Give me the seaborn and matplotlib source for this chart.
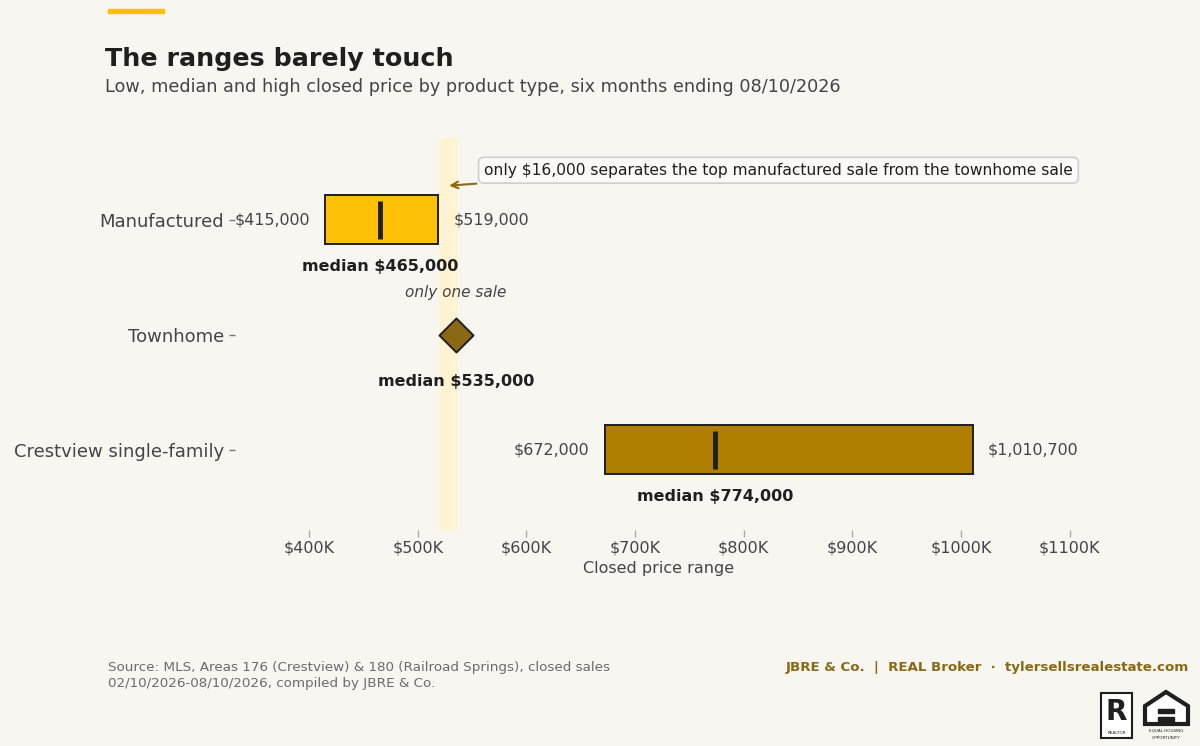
import numpy as np
import pandas as pd
import seaborn as sns
import matplotlib.pyplot as plt
from matplotlib.patches import Rectangle, Polygon
from matplotlib.ticker import FuncFormatter

# Data
product_types = ["Manufactured", "Townhome", "Crestview single-family"]
low_price = [415000, 535000, 672000]
median_price = [465000, 535000, 774000]
high_price = [519000, 535000, 1010700]
x_ticks = [400000, 500000, 600000, 700000, 800000, 900000, 1000000, 1100000]

df = pd.DataFrame({"type": product_types, "low": low_price, "median": median_price,
                   "high": high_price})
df["pos"] = np.arange(len(df))

bg = "#f7f6f1"
gold = "#ffc107"
brown = "#b07f00"
dark_brown = "#8b6914"
ink = "#1f1f1f"
grey = "#444444"
bar_colors = [gold, dark_brown, brown]

sns.set_theme(style="white")
plt.rcParams["font.family"] = ["DejaVu Sans"]

fig = plt.figure(figsize=(12, 7.46), dpi=100, facecolor=bg)
ax = fig.add_axes([0.196, 0.2895, 0.706, 0.5255], facecolor=bg)

# highlight the gap between top manufactured sale and the townhome sale
ax.axvspan(high_price[0] + 1000, low_price[1] + 2500, color="#fff3d1", zorder=0, lw=0)

h = 0.42
for i, r in df.iterrows():
    if r["low"] == r["high"]:
        continue
    ax.barh(r["pos"], r["high"] - r["low"], left=r["low"], height=h,
            color=bar_colors[i], edgecolor=ink, linewidth=1.4, zorder=2)
    ax.vlines(r["median"], r["pos"] - h / 2 + 0.045, r["pos"] + h / 2 - 0.045,
              color=ink, lw=3.5, zorder=3)
    ax.text(r["low"] - 14000, r["pos"], f"${r['low']:,.0f}", ha="right", va="center",
            fontsize=11.4, color=grey)
    ax.text(r["high"] + 14000, r["pos"], f"${r['high']:,.0f}", ha="left", va="center",
            fontsize=11.4, color=grey)
    ax.text(r["median"], r["pos"] + 0.41, f"median ${r['median']:,.0f}", ha="center",
            va="center", fontsize=11.5, fontweight="bold", color=ink)

single = df[df["low"] == df["high"]]
sns.scatterplot(data=single, x="median", y="pos", marker="D", s=300, color=dark_brown,
                edgecolor=ink, linewidth=1.4, zorder=4, ax=ax, legend=False)
for _, r in single.iterrows():
    ax.text(r["median"], r["pos"] + 0.41, f"median ${r['median']:,.0f}", ha="center",
            va="center", fontsize=11.5, fontweight="bold", color=ink)
    ax.text(r["median"], r["pos"] - 0.37, "only one sale", ha="center", va="center",
            fontsize=11, style="italic", color=grey)

gap = low_price[1] - high_price[0]
ax.text(561000, -0.43,
        f"only ${gap:,.0f} separates the top manufactured sale from the townhome sale",
        ha="left", va="center", fontsize=11.2, color=ink, zorder=5,
        bbox=dict(boxstyle="round,pad=0.35", fc="#fbfaf6", ec="#cfcfcf", lw=1.2))
ax.annotate("", xy=(529000, -0.296), xytext=(554000, -0.313),
            arrowprops=dict(arrowstyle="->", color=dark_brown, lw=1.5,
                            shrinkA=0, shrinkB=0))

ax.set_xlim(min(low_price) * 0.8, max(high_price) * 1.1)
ax.set_ylim(2.7, -0.71)
ax.set_yticks(df["pos"])
ax.set_yticklabels(product_types, fontsize=13, color=grey)
ax.set_xticks(x_ticks)
ax.xaxis.set_major_formatter(FuncFormatter(lambda v, p: f"${v / 1000:.0f}K"))
ax.tick_params(axis="x", labelsize=11.5, colors="#aaaaaa", labelcolor=grey,
               length=5, width=1, bottom=True, pad=2.5)
ax.tick_params(axis="y", colors="#777777", labelcolor=grey, length=4, width=1,
               left=True, pad=4)
ax.set_xlabel("Closed price range", fontsize=11.5, color=grey, labelpad=4)
ax.set_ylabel("")
sns.despine(ax=ax, left=True, bottom=True)

# header
fig.patches.append(Rectangle((108 / 1200, 1 - 13 / 746), 56 / 1200, 4 / 746,
                             transform=fig.transFigure, color=gold))
fig.text(105 / 1200, 1 - 59 / 746, "The ranges barely touch", fontsize=18.3,
         fontweight="bold", color=ink, va="center")
fig.text(105 / 1200, 1 - 87 / 746,
         "Low, median and high closed price by product type, six months ending 08/10/2026",
         fontsize=12.7, color=grey, va="center")

# footer
fig.text(108 / 1200, 1 - 676 / 746,
         "Source: MLS, Areas 176 (Crestview) & 180 (Railroad Springs), closed sales\n"
         "02/10/2026-08/10/2026, compiled by JBRE & Co.",
         fontsize=9.7, color="#6b6b6b", va="center", linespacing=1.3)
fig.text(1189 / 1200, 1 - 668 / 746,
         "JBRE & Co.  |  REAL Broker  \u00b7  tylersellsrealestate.com",
         fontsize=9.6, fontweight="bold", color=dark_brown, ha="right", va="center")

# simple logo marks
fig.patches.append(Rectangle((1101 / 1200, 1 - 738 / 746), 31 / 1200, 45 / 746,
                             transform=fig.transFigure, fc="white", ec=ink, lw=1.5))
fig.text(1116.5 / 1200, 1 - 712 / 746, "R", fontsize=20, fontweight="bold",
         color=ink, ha="center", va="center")
fig.text(1116.5 / 1200, 1 - 733 / 746, "REALTOR", fontsize=3, color=ink,
         ha="center", va="center")
house = [(1145, 724), (1145, 706), (1166, 692), (1188, 706), (1188, 724)]
fig.patches.append(Polygon([(x / 1200, 1 - y / 746) for x, y in house], closed=True,
                           transform=fig.transFigure, fc="white", ec=ink, lw=3))
fig.patches.append(Rectangle((1158 / 1200, 1 - 713 / 746), 16 / 1200, 4 / 746,
                             transform=fig.transFigure, color=ink))
fig.patches.append(Rectangle((1158 / 1200, 1 - 721 / 746), 16 / 1200, 4 / 746,
                             transform=fig.transFigure, color=ink))
fig.text(1166 / 1200, 1 - 731 / 746, "EQUAL HOUSING", fontsize=3, color=ink,
         ha="center", va="center")
fig.text(1166 / 1200, 1 - 738 / 746, "OPPORTUNITY", fontsize=3, color=ink,
         ha="center", va="center")

fig.savefig("out.png", dpi=100, facecolor=bg)
